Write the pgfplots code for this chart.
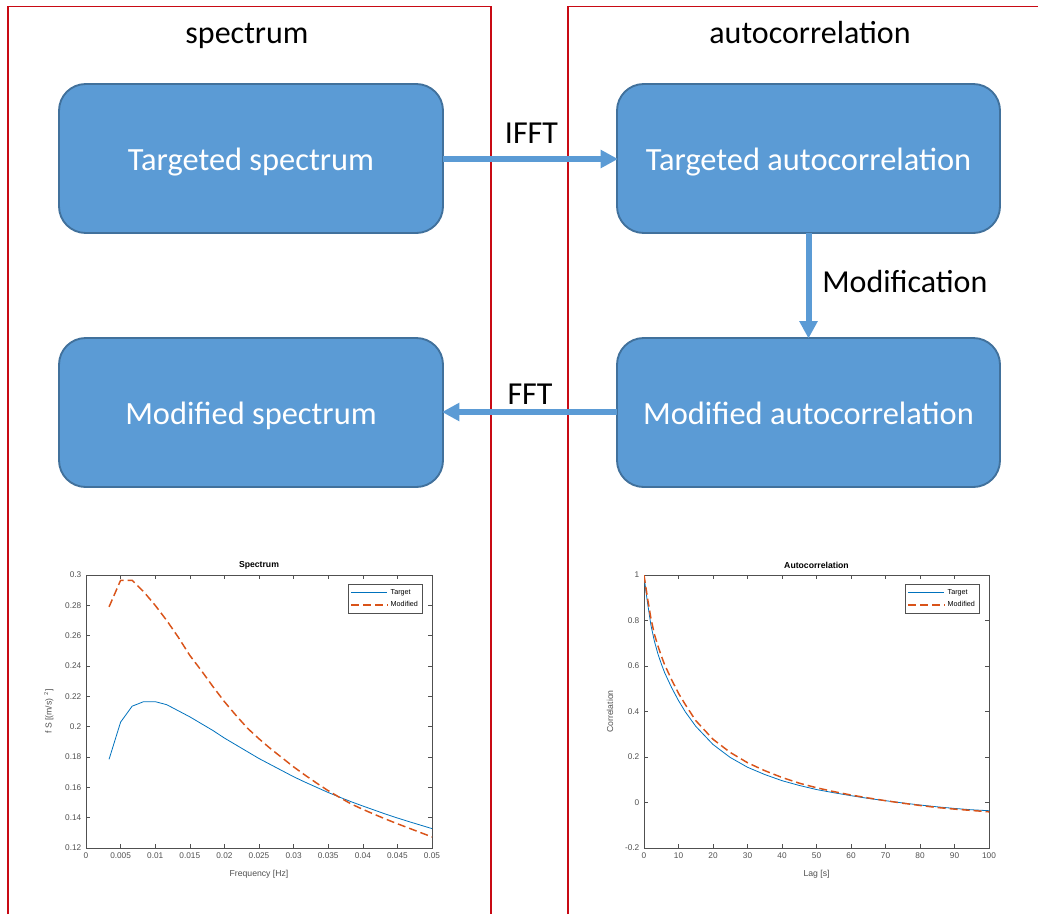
\documentclass[border=0pt]{standalone}
\usepackage{fontspec}
\setmainfont{Carlito}
\newfontfamily\plotfont{Liberation Sans}
\usepackage{pgfplots}
\usepackage{pgfplotstable}
\pgfplotsset{compat=1.18}
\usetikzlibrary{arrows.meta}
\definecolor{boxblue}{RGB}{91,155,213}
\definecolor{boxedge}{RGB}{65,113,156}
\definecolor{framered}{RGB}{200,10,20}
\definecolor{mblue}{RGB}{0,114,189}
\definecolor{morange}{RGB}{217,83,25}
\definecolor{axgray}{RGB}{80,80,80}

\pgfplotstableread{
x        t       m
0.003333 0.1785  0.2790
0.005000 0.2030  0.2965
0.006667 0.2135  0.2965
0.008333 0.2165  0.2890
0.010000 0.2165  0.2800
0.011667 0.2145  0.2700
0.013333 0.2105  0.2590
0.015000 0.2065  0.2470
0.016667 0.2020  0.2370
0.018333 0.1975  0.2265
0.020000 0.1925  0.2165
0.021667 0.1880  0.2075
0.023333 0.1835  0.1990
0.025000 0.1790  0.1920
0.026667 0.1750  0.1855
0.028333 0.1710  0.1795
0.030000 0.1670  0.1735
0.031667 0.1634  0.1680
0.033333 0.1600  0.1628
0.035000 0.1566  0.1578
0.036667 0.1535  0.1533
0.038333 0.1505  0.1490
0.040000 0.1477  0.1455
0.041667 0.1450  0.1422
0.043333 0.1423  0.1390
0.045000 0.1398  0.1360
0.046667 0.1374  0.1331
0.048333 0.1351  0.1302
0.050000 0.1328  0.1273
}\spec

\pgfplotstableread{
x    t       m
0    1.000   1.000
0.5  0.935   0.950
1    0.880   0.900
2    0.780   0.810
3    0.710   0.740
4    0.655   0.690
5    0.610   0.645
6    0.570   0.605
8    0.505   0.540
10   0.448   0.480
12   0.398   0.430
15   0.335   0.360
20   0.255   0.278
25   0.198   0.220
30   0.155   0.175
35   0.123   0.140
40   0.096   0.110
45   0.075   0.085
50   0.057   0.065
55   0.043   0.048
60   0.030   0.033
65   0.018   0.020
70   0.008   0.008
75   -0.002  -0.003
80   -0.011  -0.013
85   -0.019  -0.022
90   -0.026  -0.029
95   -0.032  -0.035
100  -0.036  -0.041
}\acorr

\pgfplotsset{
  mstyle/.style={
    scale only axis,
    anchor=south west,
    axis line style={axgray, line width=0.5pt},
    tick style={axgray, line width=0.4pt},
    tick align=inside,
    major tick length=3pt,
    xtick pos=both, ytick pos=both,
    scaled x ticks=false, scaled y ticks=false,
    /pgf/number format/assume math mode=true,
    ticklabel style={font=\plotfont\fontsize{6.2}{7}\selectfont, text=axgray},
    label style={font=\plotfont\fontsize{6.5}{7}\selectfont, text=axgray},
    xlabel style={yshift=-2pt},
    ylabel style={yshift=2pt},
    title style={font=\plotfont\bfseries\fontsize{6.5}{7}\selectfont, yshift=-5pt},
    legend style={font=\plotfont\fontsize{5.4}{6}\selectfont, draw=axgray, line width=0.7pt,
      at={(rel axis cs:0.974,0.967)}, anchor=north east, row sep=0pt, inner sep=1.5pt,
      cells={anchor=west}},
    legend image code/.code={\draw[##1] plot coordinates {(0cm,0cm) (0.95cm,0cm)};},
    clip=true,
  }
}

\begin{document}
\begin{tikzpicture}
\begin{scope}[x=0.75pt,y=-0.75pt]
\useasboundingbox (0,0) rectangle (1038,914);
% frames
\draw[framered, line width=1.2pt] (8,914) -- (8,6.5) -- (491,6.5) -- (491,914);
\draw[framered, line width=1.2pt] (568,914) -- (568,6.5) -- (1040,6.5);
% titles
\node[anchor=base, font=\fontsize{24}{28}\selectfont] at (247,43) {spectrum};
\node[anchor=base, font=\fontsize{24}{28}\selectfont] at (810,43) {autocorrelation};
% boxes
\tikzset{bx/.style={rounded corners=20pt, fill=boxblue, draw=boxedge, line width=1.4pt}}
\draw[bx] (59,84) rectangle (443,233);
\draw[bx] (617,84) rectangle (1000,233);
\draw[bx] (59,338) rectangle (443,487);
\draw[bx] (617,338) rectangle (1000,487);
\tikzset{bt/.style={anchor=base, text=white, font=\fontsize{24.3}{28}\selectfont}}
\node[bt] at (251,170) {Targeted spectrum};
\node[bt] at (808.5,170) {Targeted autocorrelation};
\node[bt] at (251,424) {Modified spectrum};
\node[bt] at (808.5,424) {Modified autocorrelation};
% arrows
\tikzset{ar/.style={boxblue, line width=4.5pt, -{Triangle[length=13pt,width=13pt]}}}
\draw[ar] (443,159) -- (618,159);
\draw[ar] (808.5,233) -- (808.5,338.5);
\draw[ar] (617,412) -- (442,412);
\node[anchor=base, font=\fontsize{24}{28}\selectfont] at (531.5,143) {IFFT};
\node[anchor=base west, font=\fontsize{24}{28}\selectfont, inner sep=0pt] at (822,292) {Modification};
\node[anchor=base, font=\fontsize{24}{28}\selectfont] at (530,404) {FFT};
\coordinate (A1) at (86,848);
\coordinate (A2) at (644,848);
\end{scope}

\begin{axis}[mstyle, at={(A1)}, width=259.5pt, height=204.75pt,
  xmin=0, xmax=0.05, ymin=0.12, ymax=0.3,
  xtick={0,0.005,0.01,0.015,0.02,0.025,0.03,0.035,0.04,0.045,0.05},
  xticklabels={0,0.005,0.01,0.015,0.02,0.025,0.03,0.035,0.04,0.045,0.05},
  ytick={0.12,0.14,0.16,0.18,0.2,0.22,0.24,0.26,0.28,0.3},
  yticklabels={0.12,0.14,0.16,0.18,0.2,0.22,0.24,0.26,0.28,0.3},
  title={Spectrum}, xlabel={Frequency [Hz]}, ylabel={f S [(m/s)\,\,$^{\mathrm{2}}$]}]
\addplot[mblue, line width=0.6pt] table[x=x,y=t] {\spec};
\addlegendentry{Target}
\addplot[morange, line width=1.1pt, dash pattern=on 6pt off 3pt] table[x=x,y=m] {\spec};
\addlegendentry{Modified}
\end{axis}

\begin{axis}[mstyle, at={(A2)}, width=258.75pt, height=204.75pt,
  xmin=0, xmax=100, ymin=-0.2, ymax=1,
  xtick={0,10,...,100},
  xticklabels={0,10,20,30,40,50,60,70,80,90,100},
  ytick={-0.2,0,0.2,0.4,0.6,0.8,1},
  yticklabels={-0.2,0,0.2,0.4,0.6,0.8,1},
  title={Autocorrelation}, xlabel={Lag [s]}, ylabel={Correlation}]
\addplot[mblue, line width=0.6pt] table[x=x,y=t] {\acorr};
\addlegendentry{Target}
\addplot[morange, line width=1.1pt, dash pattern=on 6pt off 3pt] table[x=x,y=m] {\acorr};
\addlegendentry{Modified}
\end{axis}
\end{tikzpicture}
\end{document}
